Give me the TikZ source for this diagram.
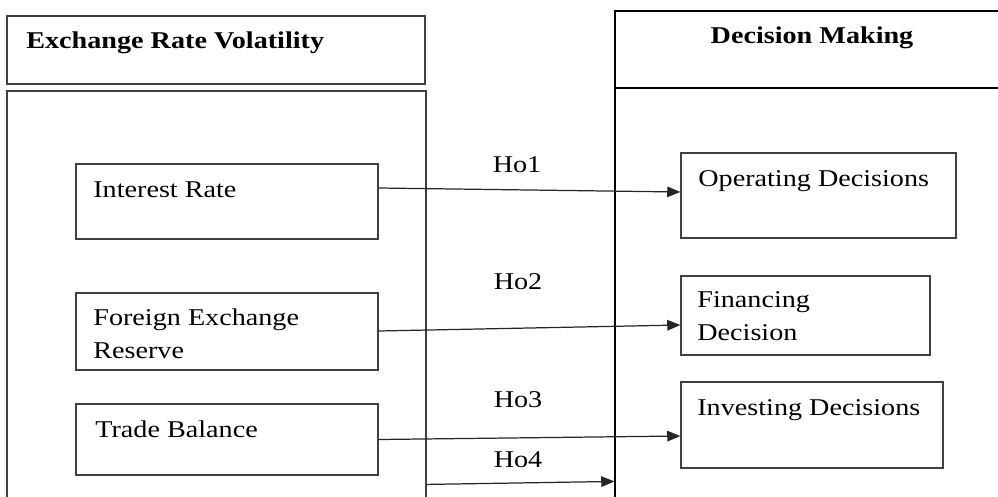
\documentclass[tikz,border=0pt]{standalone}
\usepackage{fontspec}
\setmainfont{Liberation Serif}[FakeStretch=1.17]
\usetikzlibrary{arrows.meta,calc}

\begin{document}
\begin{tikzpicture}[x=0.02cm,y=-0.02cm,
	font=\fontsize{13.7}{18.7}\selectfont,
	box/.style={draw=black!75,line width=0.7pt,inner sep=0pt},
	txt/.style={anchor=base west,inner sep=0pt,align=left},
	ho/.style={anchor=base,inner sep=0pt}]
	\useasboundingbox (0,0) rectangle (998,497);
	\clip (0,0) rectangle (998,497);
	
	% headers and panels
	\node[box,minimum width=8.36cm,minimum height=1.36cm] (lhead) at (216,50) {};
	\node[box,minimum width=8.38cm,minimum height=8.38cm] (lpanel) at (216.5,300.5) {};
	\node[box,draw=black,minimum width=7.7cm,minimum height=1.54cm] (rhead) at (807.5,49.5) {};
	\node[box,draw=black,minimum width=7.7cm,minimum height=8.44cm] (rpanel) at (807.5,299) {};
	\node[txt] (lheadtxt) at (26,49) {\bfseries Exchange Rate Volatility};
	\node[ho] (rheadtxt) at (812,43) {\bfseries Decision Making};
	
	% boxes
	\node[box,minimum width=6.04cm,minimum height=1.5cm] (ir) at (227,201.5) {};
	\node[box,minimum width=6.04cm,minimum height=1.54cm] (fer) at (227,331.5) {};
	\node[box,minimum width=6.04cm,minimum height=1.42cm] (tb) at (227,439.5) {};
	\node[box,minimum width=5.5cm,minimum height=1.7cm] (od) at (818.5,195.5) {};
	\node[box,minimum width=4.98cm,minimum height=1.58cm] (fd) at (805.5,315.5) {};
	\node[box,minimum width=5.24cm,minimum height=1.72cm] (id) at (812,425) {};
	
	% base of a two-line node is its last line
	\node[txt] (irtxt) at (93,197) {Interest Rate};
	\node[txt] (fertxt) at (93,358) {Foreign Exchange\\Reserve};
	\node[txt] (tbtxt) at (95,437) {Trade Balance};
	\node[txt] (odtxt) at (698,186) {Operating Decisions};
	\node[txt] (fdtxt) at (697,340) {Financing\\Decision};
	\node[txt] (idtxt) at (697,415) {Investing Decisions};
	
	% hypotheses
	\node[ho] (h1) at (517,172) {Ho1};
	\node[ho] (h2) at (518,289) {Ho2};
	\node[ho] (h3) at (518,407) {Ho3};
	\node[ho] (h4) at (518,467) {Ho4};
	
	\path [-{Triangle[length=7.5pt,width=6pt]}, line width=0.7pt, black!85]
		($(ir.east)+(0,-13.5)$) edge ($(od.west)+(0,-3.5)$)
		($(fer.east)+(0,-0.5)$) edge ($(fd.west)+(0,9.5)$)
		(tb.east) edge ($(id.west)+(0,11)$)
		($(lpanel.north east)+(0,394)$) edge ($(rpanel.north west)+(0,394)$);
\end{tikzpicture}
\end{document}
